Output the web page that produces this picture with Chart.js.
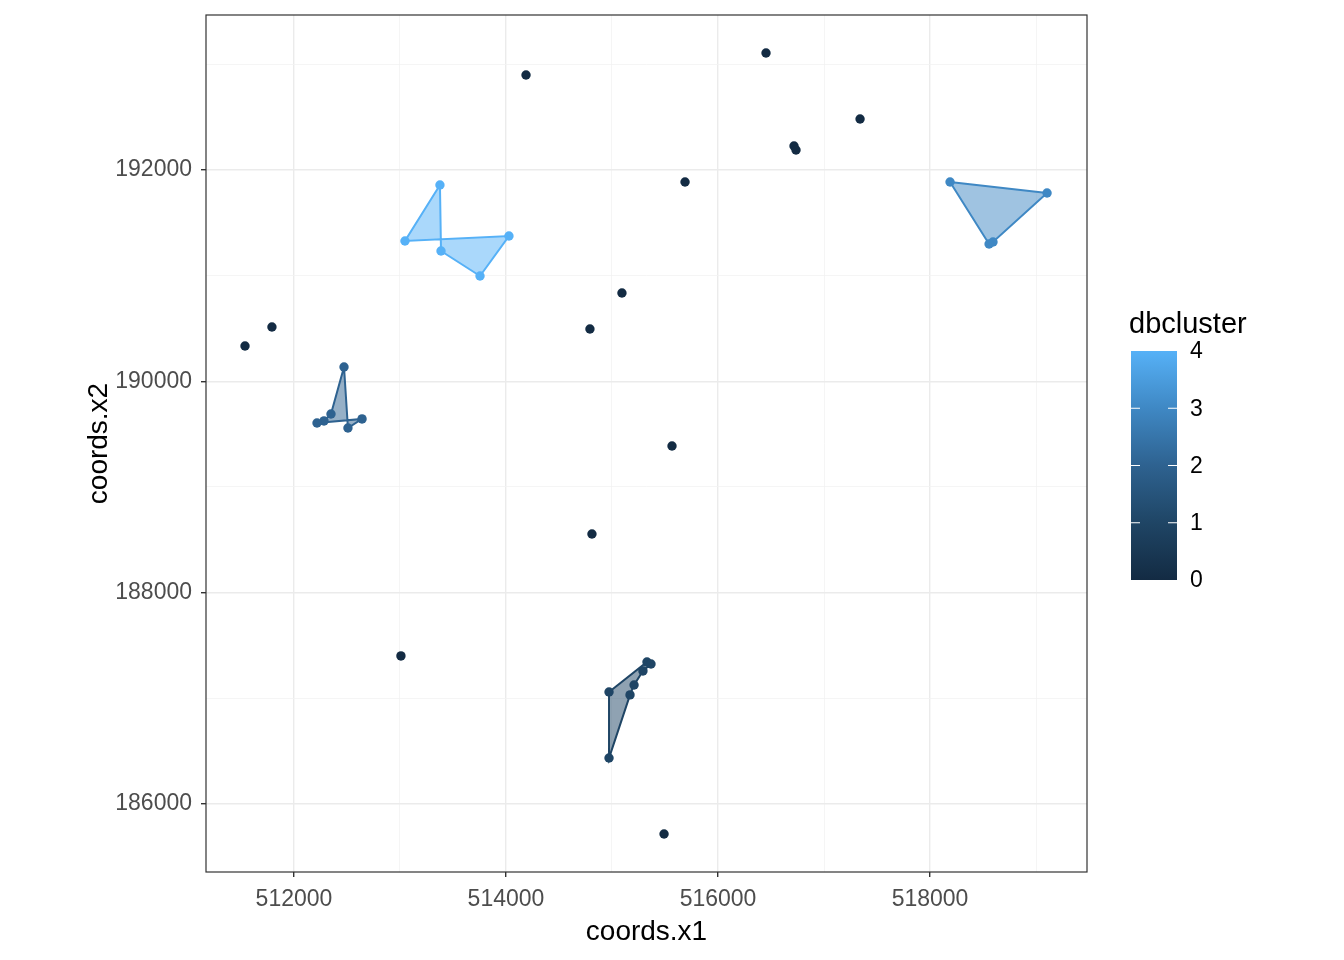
<!DOCTYPE html>
<html>
<head>
<meta charset="utf-8">
<script src="https://cdn.jsdelivr.net/npm/chart.js@4.4.1/dist/chart.umd.min.js"></script>
<style>
  html, body { margin: 0; padding: 0; background: #fff; }
  #wrap { width: 1344px; height: 960px; }
</style>
</head>
<body>
<div id="wrap"><canvas id="chart" width="1344" height="960"></canvas></div>
<script>
// noise points (dbcluster 0)
const noiseX = [511538, 511792, 514189, 516453, 516717, 516736, 517340, 515689, 515094, 514792, 515566, 514811, 513009, 515491];
const noiseY = [190334, 190514, 192899, 193107, 192227, 192189, 192483, 191886, 190836, 190495, 189388, 188555, 187401, 185716];

// cluster 1 (bottom)
const c1X = [514972, 515330, 515368, 515292, 515208, 515170, 514972];
const c1Y = [187060, 187344, 187325, 187259, 187126, 187032, 186435];
// cluster 2 (left)
const c2X = [512472, 512349, 512283, 512217, 512642, 512509];
const c2Y = [190136, 189691, 189625, 189606, 189644, 189558];
// cluster 3 (right)
const c3X = [518189, 519104, 518594, 518557];
const c3Y = [191886, 191782, 191319, 191300];
// cluster 4 (top)
const c4X = [513377, 513387, 513755, 514028, 513047];
const c4Y = [191858, 191233, 190997, 191375, 191328];

const xTicks = [512000, 513000, 514000, 515000, 516000, 517000, 518000, 519000];
const yTicks = [186000, 187000, 188000, 189000, 190000, 191000, 192000, 193000];
const legendTicks = [0, 1, 2, 3, 4];
const clusterColors = ['#132B43', '#1F4565', '#2E6290', '#3F88C4', '#56B1F7'];

const FONT = '"Liberation Sans", Arial, sans-serif';

function toPts(xs, ys, close) {
  const pts = xs.map((x, i) => ({ x: x, y: ys[i] }));
  if (close) pts.push(pts[0]);
  return pts;
}

function hexA(hex, a) {
  const r = parseInt(hex.slice(1, 3), 16), g = parseInt(hex.slice(3, 5), 16), b = parseInt(hex.slice(5, 7), 16);
  return 'rgba(' + r + ',' + g + ',' + b + ',' + a + ')';
}

const clusters = [[c1X, c1Y, 1], [c2X, c2Y, 2], [c3X, c3Y, 3], [c4X, c4Y, 4]];
const datasets = [];

// polygons first
clusters.forEach(c => {
  const col = clusterColors[c[2]];
  datasets.push({
    type: 'scatter',
    data: toPts(c[0], c[1], true),
    showLine: true,
    fill: 'shape',
    backgroundColor: hexA(col, 0.5),
    borderColor: col,
    borderWidth: 2,
    pointRadius: 0,
    order: 2
  });
});
// points
clusters.forEach(c => {
  const col = clusterColors[c[2]];
  datasets.push({
    type: 'scatter',
    data: toPts(c[0], c[1], false),
    backgroundColor: col,
    borderColor: col,
    pointRadius: 4.7,
    borderWidth: 0,
    order: 1
  });
});
datasets.push({
  type: 'scatter',
  data: toPts(noiseX, noiseY, false),
  backgroundColor: clusterColors[0],
  borderColor: clusterColors[0],
  pointRadius: 4.7,
  borderWidth: 0,
  order: 1
});

const isMajor = v => v % 2000 === 0;

const frame = {
  id: 'frame',
  afterDraw(chart) {
    const ctx = chart.ctx, a = chart.chartArea;
    ctx.save();
    ctx.strokeStyle = '#333333';
    ctx.lineWidth = 1.2;
    ctx.strokeRect(a.left, a.top, a.right - a.left, a.bottom - a.top);

    // colour bar legend
    const bx = 1131, bw = 46, top = 351, bot = 580;
    const grad = ctx.createLinearGradient(0, bot, 0, top);
    clusterColors.forEach((c, i) => grad.addColorStop(i / (clusterColors.length - 1), c));
    ctx.fillStyle = grad;
    ctx.fillRect(bx, top, bw, bot - top);
    ctx.strokeStyle = '#ffffff';
    ctx.lineWidth = 1.2;
    ctx.fillStyle = '#000000';
    ctx.font = '23px ' + FONT;
    ctx.textAlign = 'left';
    ctx.textBaseline = 'middle';
    legendTicks.forEach(t => {
      const y = bot - (bot - top) * t / 4;
      if (t > 0 && t < 4) {
        ctx.beginPath();
        ctx.moveTo(bx, y); ctx.lineTo(bx + 9, y);
        ctx.moveTo(bx + bw - 9, y); ctx.lineTo(bx + bw, y);
        ctx.stroke();
      }
      ctx.fillText(String(t), 1190, y + 1);
    });
    ctx.font = '29px ' + FONT;
    ctx.textBaseline = 'alphabetic';
    ctx.fillText('dbcluster', 1129, 333);
    ctx.restore();
  }
};

new Chart(document.getElementById('chart'), {
  type: 'scatter',
  data: { datasets: datasets },
  options: {
    responsive: false,
    animation: false,
    layout: { padding: { top: 15, right: 257, left: 78, bottom: 7 } },
    plugins: { legend: { display: false }, tooltip: { enabled: false } },
    scales: {
      x: {
        type: 'linear',
        min: 511170,
        max: 519481,
        afterBuildTicks: s => { s.ticks = xTicks.map(v => ({ value: v })); },
        afterFit: s => { s.height = 81; s.paddingLeft = 0; s.paddingRight = 0; },
        border: { display: false },
        grid: {
          color: c => (c.tick && isMajor(c.tick.value)) ? '#EBEBEB' : '#F3F3F3',
          lineWidth: c => (c.tick && isMajor(c.tick.value)) ? 1.4 : 0.8,
          tickLength: 5,
          tickColor: c => (c.tick && isMajor(c.tick.value)) ? '#333333' : 'rgba(0,0,0,0)'
        },
        ticks: {
          autoSkip: false,
          maxRotation: 0,
          padding: 9,
          color: '#4D4D4D',
          font: { family: FONT, size: 23 },
          callback: v => isMajor(v) ? String(v) : ''
        },
        title: {
          display: true,
          text: 'coords.x1',
          color: '#000000',
          font: { family: FONT, size: 28 },
          padding: { top: 0 }
        }
      },
      y: {
        type: 'linear',
        min: 185356,
        max: 193467,
        afterBuildTicks: s => { s.ticks = yTicks.map(v => ({ value: v })); },
        afterFit: s => { s.width = 128; s.paddingTop = 0; s.paddingBottom = 0; },
        border: { display: false },
        grid: {
          color: c => (c.tick && isMajor(c.tick.value)) ? '#EBEBEB' : '#F3F3F3',
          lineWidth: c => (c.tick && isMajor(c.tick.value)) ? 1.4 : 0.8,
          tickLength: 5,
          tickColor: c => (c.tick && isMajor(c.tick.value)) ? '#333333' : 'rgba(0,0,0,0)'
        },
        ticks: {
          autoSkip: false,
          padding: 9,
          color: '#4D4D4D',
          font: { family: FONT, size: 23 },
          callback: v => isMajor(v) ? String(v) : ''
        },
        title: {
          display: true,
          text: 'coords.x2',
          color: '#000000',
          font: { family: FONT, size: 28 },
          padding: { bottom: 0 }
        }
      }
    }
  },
  plugins: [frame]
});
</script>
</body>
</html>
